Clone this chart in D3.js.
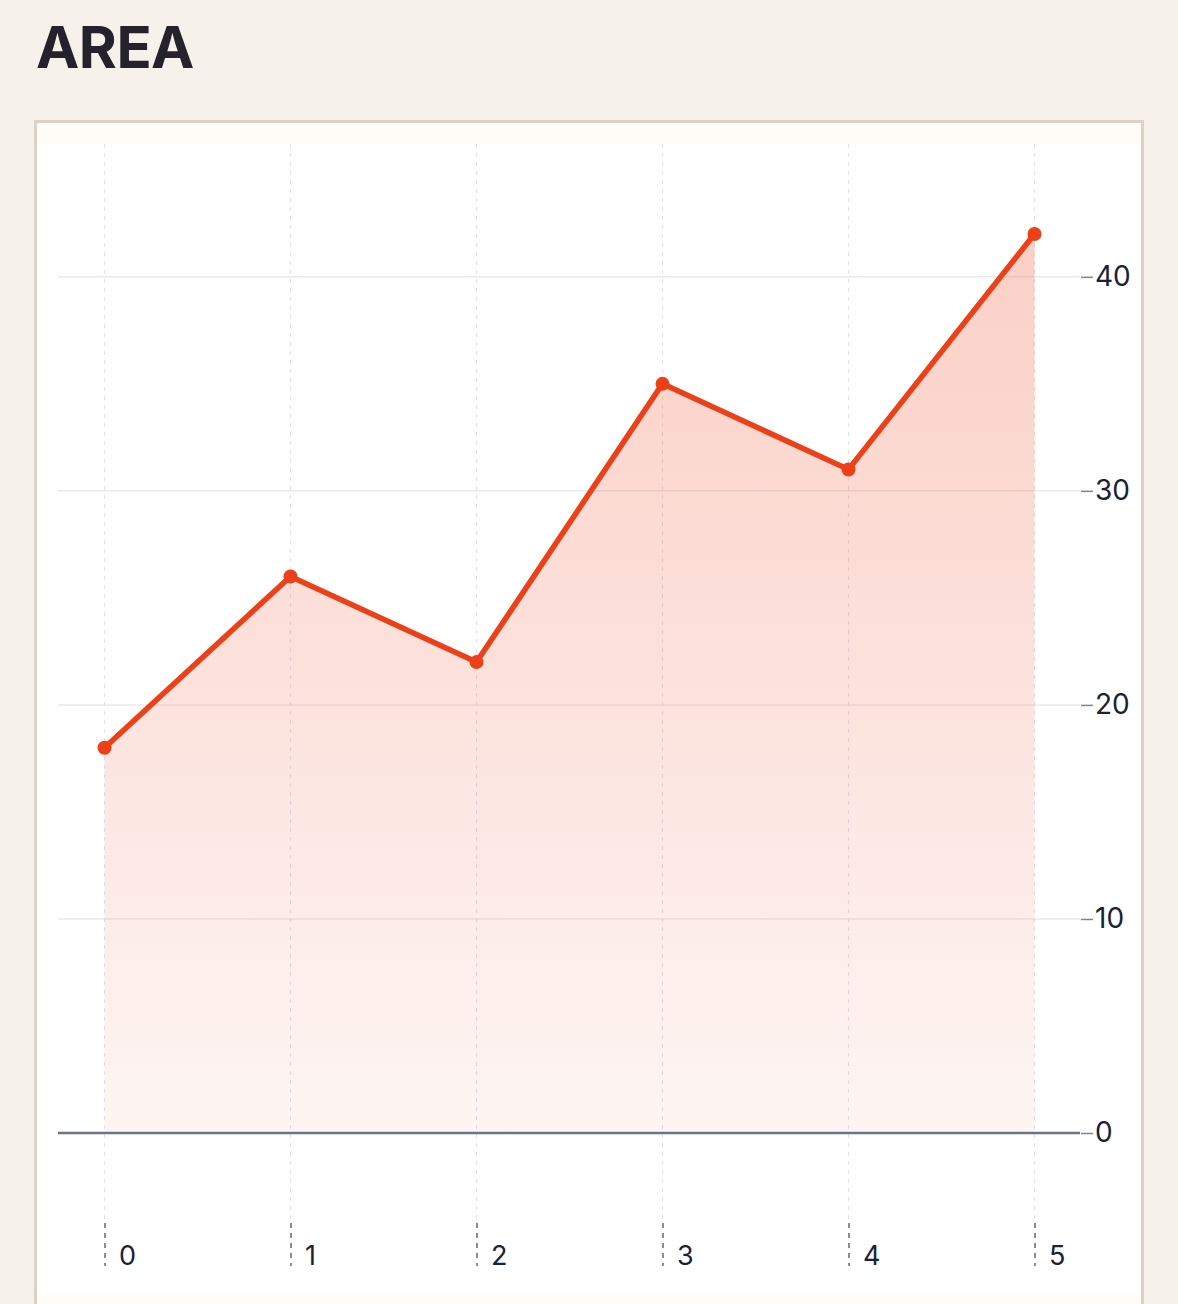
<!DOCTYPE html>
<html>
<head>
<meta charset="utf-8">
<script src="https://cdn.jsdelivr.net/npm/d3@7"></script>
<style>
  body { margin: 0; background: #f6f1ea; font-family: Inter, "Noto Sans", sans-serif; }
  h1 { position: absolute; left: 36px; top: 12px; margin: 0; font-size: 58px; font-weight: 700; color: #25222b; letter-spacing: -0.5px; }
  #card { position: absolute; left: 34px; top: 120px; width: 1104px; border: 3px solid #dcd3c6; background: #fffbf6; padding: 21px 0 9px 0; }
  #card svg { display: block; background: #fff; }
</style>
</head>
<body>
<h1>AREA</h1>
<div id="card"></div>
<script>
// data
const xValues = [0, 1, 2, 3, 4, 5];
const yValues = [18, 26, 22, 35, 31, 42];
const yTicks = [0, 10, 20, 30, 40];

let width = 1104,
  height = 1151;

let x = d3.scaleLinear().domain([0, 5]).range([67.5, 997.5]);
let y = d3.scaleLinear().domain([0, 42]).range([989, 90]);

const gridLeft = 21, gridRight = 1043, xAxisY = 1079;
const lineColor = "#ec4018";

let svg = d3.select("#card").append("svg")
  .attr("width", width)
  .attr("height", height);

// gradient for the area
let grad = svg.append("defs").append("linearGradient")
  .attr("id", "areaFill")
  .attr("gradientUnits", "userSpaceOnUse")
  .attr("x1", 0).attr("x2", 0)
  .attr("y1", y(42)).attr("y2", y(0));
grad.append("stop").attr("offset", "0%").attr("stop-color", lineColor).attr("stop-opacity", 0.25);
grad.append("stop").attr("offset", "100%").attr("stop-color", lineColor).attr("stop-opacity", 0.05);

// horizontal grid
svg.append("g").selectAll("line").data(yTicks).join("line")
  .attr("x1", gridLeft).attr("x2", gridRight)
  .attr("y1", d => y(d)).attr("y2", d => y(d))
  .attr("stroke", "#e7eaf2").attr("stroke-width", 1.5);

// vertical grid
svg.append("g").selectAll("line").data(xValues).join("line")
  .attr("x1", d => x(d)).attr("x2", d => x(d))
  .attr("y1", 0).attr("y2", xAxisY)
  .attr("stroke", "#dfe4ee").attr("stroke-width", 1.2)
  .attr("stroke-dasharray", "4,5");

let data = xValues.map((d, i) => ({ x: d, y: yValues[i] }));

// area
svg.append("path")
  .datum(data)
  .attr("fill", "url(#areaFill)")
  .attr("d", d3.area().x(d => x(d.x)).y0(y(0)).y1(d => y(d.y)));

// zero line
svg.append("line")
  .attr("x1", gridLeft).attr("x2", gridRight)
  .attr("y1", y(0)).attr("y2", y(0))
  .attr("stroke", "#6b7489").attr("stroke-width", 2.5);

// line + points
svg.append("path")
  .datum(data)
  .attr("fill", "none")
  .attr("stroke", lineColor)
  .attr("stroke-width", 5.5)
  .attr("stroke-linejoin", "miter")
  .attr("d", d3.line().x(d => x(d.x)).y(d => y(d.y)));

svg.append("g").selectAll("circle").data(data).join("circle")
  .attr("cx", d => x(d.x)).attr("cy", d => y(d.y))
  .attr("r", 7)
  .attr("fill", lineColor);

// right y axis
let yAxis = svg.append("g")
  .attr("transform", "translate(" + (gridRight + 1) + ",0)")
  .call(d3.axisRight(y).tickValues(yTicks).tickSize(12).tickPadding(2));
yAxis.select(".domain").remove();
yAxis.selectAll(".tick line").attr("stroke", "#7c8499").attr("stroke-width", 1.5);
yAxis.selectAll(".tick text")
  .attr("fill", "#1b2136")
  .style("font-family", "Inter, sans-serif")
  .style("font-size", "28px");

// bottom x axis
let xAxis = svg.append("g")
  .attr("transform", "translate(0," + xAxisY + ")")
  .call(d3.axisBottom(x).tickValues(xValues).tickSize(43).tickFormat(d3.format("d")));
xAxis.select(".domain").remove();
xAxis.selectAll(".tick line")
  .attr("stroke", "#5f6880").attr("stroke-width", 1.5)
  .attr("stroke-dasharray", "5,5");
xAxis.selectAll(".tick text")
  .attr("fill", "#1b2136")
  .attr("x", 14).attr("y", 42).attr("dy", 0)
  .attr("text-anchor", "start")
  .style("font-family", "Inter, sans-serif")
  .style("font-size", "27px");
</script>
</body>
</html>
